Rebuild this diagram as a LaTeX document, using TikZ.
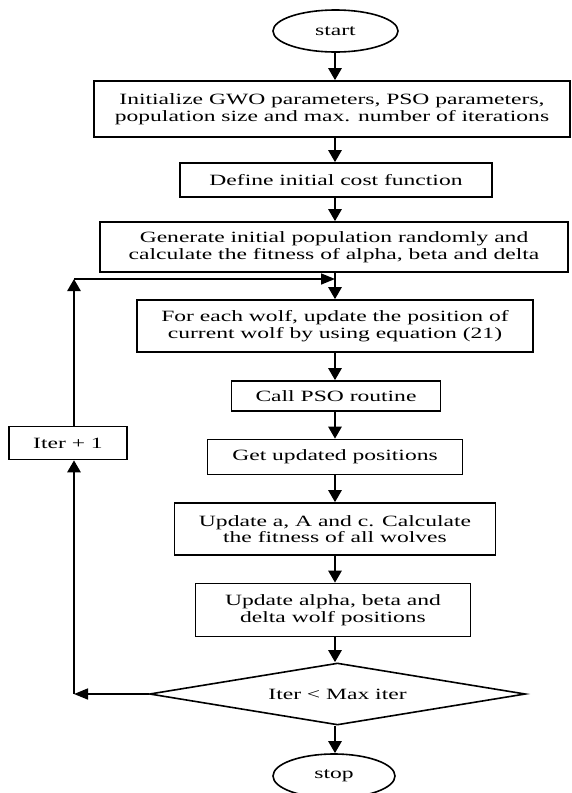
\documentclass[tikz,border=0pt]{standalone}
\usepackage{fontspec}
\setmainfont[FakeStretch=1.5]{Liberation Serif}
\usetikzlibrary{shapes.geometric,arrows.meta,calc}
\begin{document}
\begin{tikzpicture}[x=1pt,y=-1pt,
  txt/.style={font=\fontsize{15.7}{16.7}\selectfont},
  box/.style={draw,line width=1.6pt,rectangle,inner sep=0pt,align=center,txt},
  term/.style={draw,line width=1.6pt,ellipse,inner sep=0pt,align=center,txt},
  decide/.style={draw,line width=1.6pt,diamond,shape aspect=6,inner sep=0pt,align=center,txt},
  arr/.style={line width=2.6pt,-{Triangle[length=12pt,width=13pt]}},
  arrthin/.style={line width=1.6pt,-{Triangle[length=14pt,width=11pt]}}]
\useasboundingbox (0,0) rectangle (572,793);
\clip (0,0) rectangle (572,793);
\fill[white] (0,0) rectangle (572,793);

\node[term, minimum width=125pt, minimum height=42pt] (start) at (335.5,31) {start};
\node[box, minimum width=476pt, minimum height=56pt] (b1) at (332,109)
  {Initialize GWO parameters, PSO parameters,\\population size and max. number of iterations};
\node[box, minimum width=312pt, minimum height=34pt] (b2) at (336,180) {Define initial cost function};
\node[box, minimum width=468pt, minimum height=50pt] (b3) at (334,247)
  {Generate initial population randomly and\\calculate the fitness of alpha, beta and delta};
\node[box, minimum width=396pt, minimum height=52pt] (b4) at (335,326)
  {For each wolf, update the position of\\current wolf by using equation (21)};
\node[box, minimum width=209pt, minimum height=30pt] (b5) at (336,396) {Call PSO routine};
\node[box, minimum width=255pt, minimum height=35pt] (b6) at (335,457) {Get updated positions};
\node[box, minimum width=321pt, minimum height=52pt] (b7) at (335,529)
  {Update a, A and c. Calculate\\the fitness of all wolves};
\node[box, minimum width=275pt, minimum height=53pt] (b8) at (333,610)
  {Update alpha, beta and\\delta wolf positions};
\node[decide, minimum width=376pt, minimum height=62pt] (dia) at (337.5,694) {Iter < Max iter};
\node[term, minimum width=122pt, minimum height=44pt] (stop) at (334,776) {stop};
\node[box, minimum width=118pt, minimum height=33pt] (iter) at (68,443) {Iter + 1};

\coordinate (join) at (335,279);
\coordinate (c1) at (74,694);
\coordinate (c2) at (74,279);

\draw[arr] (start.south -| 335,0) -- (b1.north -| 335,0);
\draw[arr] (b1.south -| 335,0) -- (b2.north -| 335,0);
\draw[arr] (b2.south -| 335,0) -- (b3.north -| 335,0);
\draw[arr] (b3.south -| 335,0) -- (b4.north -| 335,0);
\draw[arr] (b4.south -| 335,0) -- (b5.north -| 335,0);
\draw[arr] (b5.south -| 335,0) -- (b6.north -| 335,0);
\draw[arr] (b6.south -| 335,0) -- (b7.north -| 335,0);
\draw[arr] (b7.south -| 335,0) -- (b8.north -| 335,0);
\draw[arr] (b8.south -| 335,0) -- (dia.north -| 335,0);
\draw[arr] (dia.south -| 335,0) -- (stop.north -| 335,0);

\draw[arrthin] (dia.west) -- (c1);
\draw[arr] (c1) -- (c1 |- iter.south);
\draw[arr] (c1 |- iter.north) -- (c2);
\draw[arrthin] (c2) -- (join);
\end{tikzpicture}
\end{document}
